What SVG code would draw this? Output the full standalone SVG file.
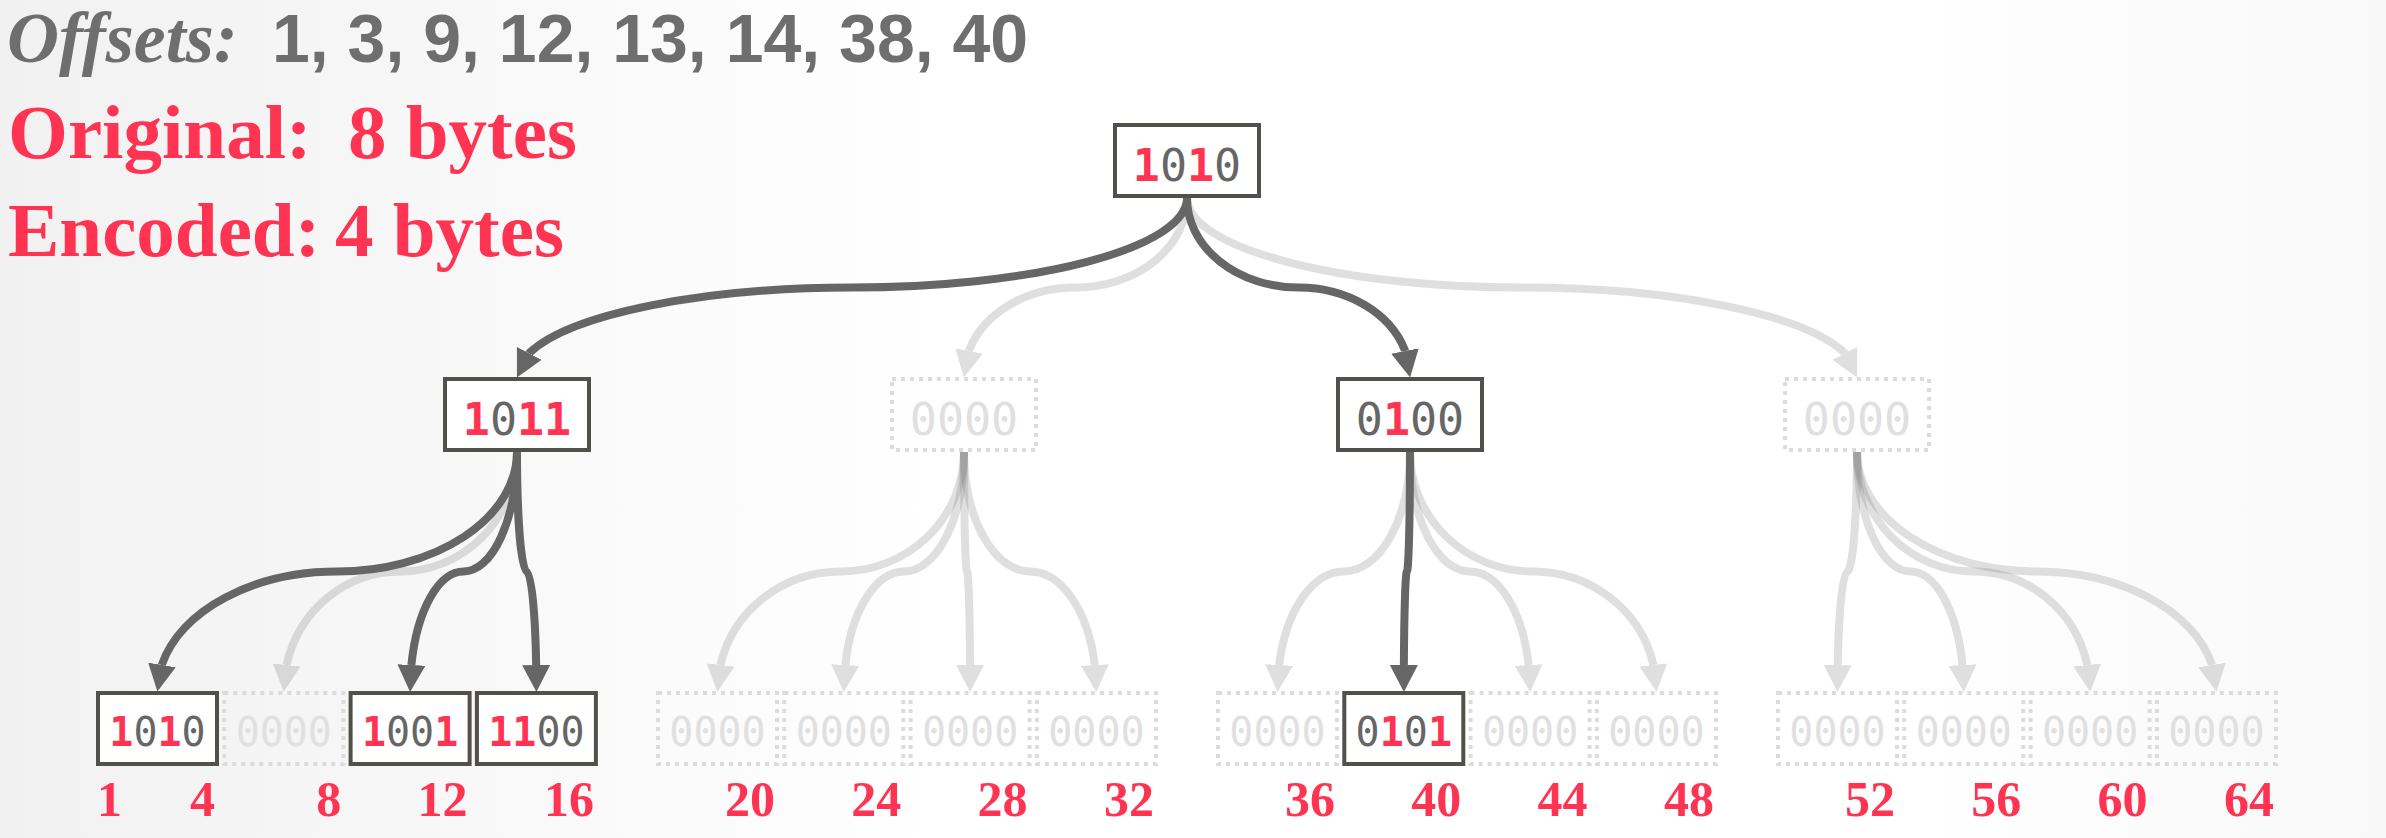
<svg xmlns="http://www.w3.org/2000/svg" width="2386" height="838" viewBox="0 0 2386 838">
<style>
.dk{fill:none;stroke:#666;stroke-width:8;stroke-linejoin:round;marker-end:url(#ah)}
.lt{fill:none;stroke:#666;stroke-width:8;stroke-linejoin:round;marker-end:url(#ah);opacity:.2}
.box{fill:#fff;stroke:#51504c;stroke-width:4}
.dot{fill:none;stroke:#dcdcdc;stroke-width:4;stroke-dasharray:4 5}
.bt{font-family:"DejaVu Sans Mono",monospace;text-anchor:middle}
.big{font-size:45px}
.sm{font-size:40px}
.r{fill:#ff3452;font-weight:bold}
.g{fill:#666}
.gh{fill:#e0e0e0}
.lbl{font-family:"Liberation Serif",serif;font-weight:bold;font-size:50px;fill:#ff3452;text-anchor:end}
.hd{font-family:"Liberation Serif",serif;font-weight:bold;font-size:77px;fill:#ff3452}
</style>
<defs>
<linearGradient id="bg" x1="0" y1="0" x2="1" y2="0">
<stop offset="0" stop-color="#f1f1f1"/>
<stop offset="0.4" stop-color="#ffffff"/>
<stop offset="0.8" stop-color="#ffffff"/>
<stop offset="1" stop-color="#f8f8f8"/>
</linearGradient>
<marker id="ah" viewBox="0 0 27 28" refX="0" refY="14" markerWidth="27" markerHeight="28" markerUnits="userSpaceOnUse" orient="auto">
<path d="M0,0L27,14L0,28z" fill="#666"/>
</marker>
</defs>
<rect x="0" y="0" width="2386" height="838" fill="url(#bg)"/>

<g id="title">
<text y="62"><tspan x="7" font-family="Liberation Serif,serif" font-style="italic" font-weight="bold" font-size="72" fill="#6e6e6e">Offsets:</tspan><tspan x="272" font-family="Liberation Sans,sans-serif" font-weight="bold" font-size="68" fill="#6e6e6e">1, 3, 9, 12, 13, 14, 38, 40</tspan></text>
<text class="hd" y="158"><tspan x="8">Original:</tspan><tspan x="348">8 bytes</tspan></text>
<text class="hd" y="256"><tspan x="8">Encoded:</tspan><tspan x="335">4 bytes</tspan></text>
</g>

<g id="connectors">
<path class="lt" d="M1187,198 A111.5,89.5 0 0 1 1075.5,287.5 A111.5,89.5 0 0 0 969.2,350 l-0.19,0.98"/>
<path class="lt" d="M1187,198 A335,89.5 0 0 0 1522,287.5 A335,89.5 0 0 1 1844.2,352.5 l0.46,0.89"/>
<path class="lt" d="M517,452 A116.6,119.5 0 0 1 400.4,571.5 A116.6,119.5 0 0 0 286.81,664 l-0.11,0.99"/>
<path class="lt" d="M964,452 A123.25,119.5 0 0 1 840.75,571.5 A123.25,119.5 0 0 0 720.68,664 l-0.12,0.99"/>
<path class="lt" d="M964,452 A60.1,119.5 0 0 1 903.9,571.5 A60.1,119.5 0 0 0 845.35,664 l-0.06,1"/>
<path class="lt" d="M964,452 A3.05,119.5 0 0 0 967.05,571.5 A3.05,119.5 0 0 1 970.02,664 l0,1"/>
<path class="lt" d="M964,452 A66.2,119.5 0 0 0 1030.2,571.5 A66.2,119.5 0 0 1 1094.69,664 l0.06,1"/>
<path class="lt" d="M1410,452 A66.25,119.5 0 0 1 1343.75,571.5 A66.25,119.5 0 0 0 1279.21,664 l-0.06,1"/>
<path class="lt" d="M1410,452 A60.05,119.5 0 0 0 1470.05,571.5 A60.05,119.5 0 0 1 1528.55,664 l0.06,1"/>
<path class="lt" d="M1410,452 A123.2,119.5 0 0 0 1533.2,571.5 A123.2,119.5 0 0 1 1653.22,664 l0.12,0.99"/>
<path class="lt" d="M1857,452 A9.75,119.5 0 0 1 1847.25,571.5 A9.75,119.5 0 0 0 1837.75,664 l-0.01,1"/>
<path class="lt" d="M1857,452 A53.4,119.5 0 0 0 1910.4,571.5 A53.4,119.5 0 0 1 1962.42,664 l0.05,1"/>
<path class="lt" d="M1857,452 A116.55,119.5 0 0 0 1973.55,571.5 A116.55,119.5 0 0 1 2087.09,664 l0.11,0.99"/>
<path class="lt" d="M1857,452 A179.7,119.5 0 0 0 2036.7,571.5 A179.7,119.5 0 0 1 2211.76,664 l0.17,0.99"/>
<path class="dk" d="M1187,198 A335,89.5 0 0 1 852,287.5 A335,89.5 0 0 0 529.8,352.5 l-0.46,0.89"/>
<path class="dk" d="M1187,198 A111.5,89.5 0 0 0 1298.5,287.5 A111.5,89.5 0 0 1 1404.8,350 l0.19,0.98"/>
<path class="dk" d="M517,452 A179.75,119.5 0 0 1 337.25,571.5 A179.75,119.5 0 0 0 162.14,664 l-0.17,0.99"/>
<path class="dk" d="M517,452 A53.45,119.5 0 0 1 463.55,571.5 A53.45,119.5 0 0 0 411.48,664 l-0.05,1"/>
<path class="dk" d="M517,452 A9.7,119.5 0 0 0 526.7,571.5 A9.7,119.5 0 0 1 536.15,664 l0.01,1"/>
<path class="dk" d="M1410,452 A3.1,119.5 0 0 1 1406.9,571.5 A3.1,119.5 0 0 0 1403.88,664 l0,1"/>
</g>

<g id="root">
<rect class="box" x="1115" y="125" width="144" height="71"/>
<text class="bt big" x="1187" y="181"><tspan class="r">1</tspan><tspan class="g">0</tspan><tspan class="r">1</tspan><tspan class="g">0</tspan></text>
</g>

<g id="mid-1">
<rect class="box" x="445" y="379" width="144" height="71"/>
<text class="bt big" x="517" y="435"><tspan class="r">1</tspan><tspan class="g">0</tspan><tspan class="r">1</tspan><tspan class="r">1</tspan></text>
</g>
<g id="mid-2">
<rect class="dot" x="892" y="379" width="144" height="71"/>
<text class="bt big gh" x="964" y="435">0000</text>
</g>
<g id="mid-3">
<rect class="box" x="1338" y="379" width="144" height="71"/>
<text class="bt big" x="1410" y="435"><tspan class="g">0</tspan><tspan class="r">1</tspan><tspan class="g">0</tspan><tspan class="g">0</tspan></text>
</g>
<g id="mid-4">
<rect class="dot" x="1785" y="379" width="144" height="71"/>
<text class="bt big gh" x="1857" y="435">0000</text>
</g>

<g id="leaf-1">
<rect class="box" x="98" y="693" width="119" height="71"/>
<text class="bt sm" x="157.5" y="746"><tspan class="r">1</tspan><tspan class="g">0</tspan><tspan class="r">1</tspan><tspan class="g">0</tspan></text>
</g>
<g id="leaf-2">
<rect class="dot" x="224.3" y="693" width="119" height="71"/>
<text class="bt sm gh" x="283.8" y="746">0000</text>
</g>
<g id="leaf-3">
<rect class="box" x="350.6" y="693" width="119" height="71"/>
<text class="bt sm" x="410.1" y="746"><tspan class="r">1</tspan><tspan class="g">0</tspan><tspan class="g">0</tspan><tspan class="r">1</tspan></text>
</g>
<g id="leaf-4">
<rect class="box" x="476.9" y="693" width="119" height="71"/>
<text class="bt sm" x="536.4" y="746"><tspan class="r">1</tspan><tspan class="r">1</tspan><tspan class="g">0</tspan><tspan class="g">0</tspan></text>
</g>
<g id="leaf-5">
<rect class="dot" x="658" y="693" width="119" height="71"/>
<text class="bt sm gh" x="717.5" y="746">0000</text>
</g>
<g id="leaf-6">
<rect class="dot" x="784.3" y="693" width="119" height="71"/>
<text class="bt sm gh" x="843.8" y="746">0000</text>
</g>
<g id="leaf-7">
<rect class="dot" x="910.6" y="693" width="119" height="71"/>
<text class="bt sm gh" x="970.1" y="746">0000</text>
</g>
<g id="leaf-8">
<rect class="dot" x="1036.9" y="693" width="119" height="71"/>
<text class="bt sm gh" x="1096.4" y="746">0000</text>
</g>
<g id="leaf-9">
<rect class="dot" x="1218" y="693" width="119" height="71"/>
<text class="bt sm gh" x="1277.5" y="746">0000</text>
</g>
<g id="leaf-10">
<rect class="box" x="1344.3" y="693" width="119" height="71"/>
<text class="bt sm" x="1403.8" y="746"><tspan class="g">0</tspan><tspan class="r">1</tspan><tspan class="g">0</tspan><tspan class="r">1</tspan></text>
</g>
<g id="leaf-11">
<rect class="dot" x="1470.6" y="693" width="119" height="71"/>
<text class="bt sm gh" x="1530.1" y="746">0000</text>
</g>
<g id="leaf-12">
<rect class="dot" x="1596.9" y="693" width="119" height="71"/>
<text class="bt sm gh" x="1656.4" y="746">0000</text>
</g>
<g id="leaf-13">
<rect class="dot" x="1778" y="693" width="119" height="71"/>
<text class="bt sm gh" x="1837.5" y="746">0000</text>
</g>
<g id="leaf-14">
<rect class="dot" x="1904.3" y="693" width="119" height="71"/>
<text class="bt sm gh" x="1963.8" y="746">0000</text>
</g>
<g id="leaf-15">
<rect class="dot" x="2030.6" y="693" width="119" height="71"/>
<text class="bt sm gh" x="2090.1" y="746">0000</text>
</g>
<g id="leaf-16">
<rect class="dot" x="2156.9" y="693" width="119" height="71"/>
<text class="bt sm gh" x="2216.4" y="746">0000</text>
</g>

<g id="offset-labels">
<text class="lbl" x="97" y="816" style="text-anchor:start">1</text>
<text class="lbl" x="215" y="816">4</text>
<text class="lbl" x="341.3" y="816">8</text>
<text class="lbl" x="467.6" y="816">12</text>
<text class="lbl" x="593.9" y="816">16</text>
<text class="lbl" x="775" y="816">20</text>
<text class="lbl" x="901.3" y="816">24</text>
<text class="lbl" x="1027.6" y="816">28</text>
<text class="lbl" x="1153.9" y="816">32</text>
<text class="lbl" x="1335" y="816">36</text>
<text class="lbl" x="1461.3" y="816">40</text>
<text class="lbl" x="1587.6" y="816">44</text>
<text class="lbl" x="1713.9" y="816">48</text>
<text class="lbl" x="1895" y="816">52</text>
<text class="lbl" x="2021.3" y="816">56</text>
<text class="lbl" x="2147.6" y="816">60</text>
<text class="lbl" x="2273.9" y="816">64</text>
</g>
</svg>
